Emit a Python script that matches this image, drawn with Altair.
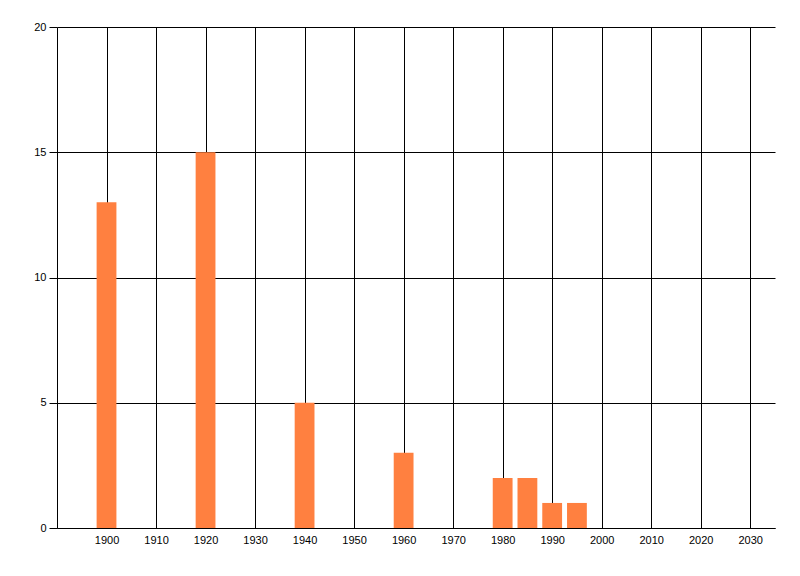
import altair as alt
import pandas as pd

years = [1900, 1920, 1940, 1960, 1980, 1985, 1990, 1995]
counts = [13, 15, 5, 3, 2, 2, 1, 1]
x_ticks = list(range(1900, 2031, 10))
y_ticks = [0, 5, 10, 15, 20]

df = pd.DataFrame({"year": years, "count": counts})
df["x0"] = df["year"] - 2
df["x1"] = df["year"] + 2

font = "Liberation Sans"

chart = alt.Chart(df).mark_bar(color="#FF8040").encode(
    x=alt.X("x0:Q", scale=alt.Scale(domain=[1890, 2035], nice=False, zero=False),
            axis=alt.Axis(values=x_ticks, format="d", title=None, grid=True,
                          gridColor="black", gridOpacity=1, ticks=False,
                          domainColor="black", labelColor="black",
                          labelFont=font, labelFontSize=11, labelPadding=6)),
    x2="x1:Q",
    y=alt.Y("count:Q", scale=alt.Scale(domain=[0, 20], nice=False),
            axis=alt.Axis(values=y_ticks, title=None, grid=True,
                          gridColor="black", gridOpacity=1, ticks=True, tickSize=8,
                          tickColor="black", domainColor="black", labelColor="black",
                          labelFont=font, labelFontSize=11, labelPadding=3)),
    y2=alt.datum(0),
).properties(
    width=718, height=501,
    autosize=alt.AutoSizeParams(type="none"),
    padding={"left": 49, "top": 19, "right": 10, "bottom": 30},
).configure_view(stroke=None)

chart.save("out.html", embed_options={"renderer": "svg", "actions": False})
